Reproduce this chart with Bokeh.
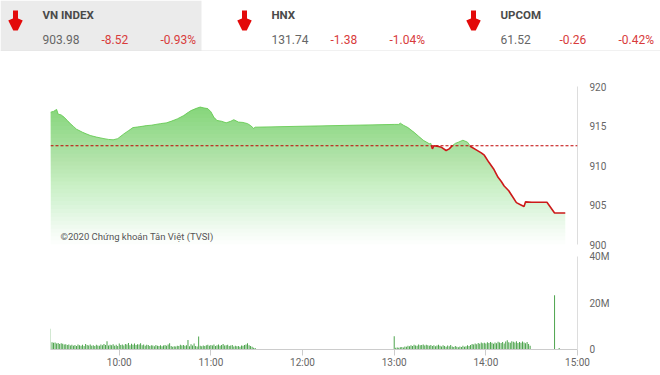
import numpy as np
from bokeh.plotting import figure
from bokeh.layouts import column, row
from bokeh.models import (Range1d, FixedTicker, LinearAxis, Span, Label, ColumnDataSource,
                          BoxAnnotation, Arrow, OpenHead)
from bokeh.core.properties import value
from bokeh.embed import file_html
from bokeh.resources import INLINE

FONT = "Roboto"

# ---------------- data ----------------
index_names = ["VN INDEX", "HNX", "UPCOM"]
index_values = [903.98, 131.74, 61.52]
index_changes = [-8.52, -1.38, -0.26]
index_pcts = [-0.93, -1.04, -0.42]

prev_close = 912.50

price_times = [
    "09:15", "09:17", "09:19", "09:20", "09:22", "09:24", "09:26", "09:28", "09:30", "09:32",
    "09:36", "09:41", "09:45", "09:50", "09:53", "09:56", "09:59", "10:03", "10:06", "10:09",
    "10:13", "10:18", "10:21", "10:24", "10:27", "10:31", "10:34", "10:38", "10:42", "10:45",
    "10:47", "10:50", "10:53", "10:55", "10:58", "11:00", "11:02", "11:04", "11:07", "11:10",
    "11:13", "11:15", "11:18", "11:21", "11:24", "11:26", "11:28", "11:29",
    "13:00", "13:03", "13:04", "13:06", "13:09", "13:13", "13:16", "13:19", "13:23", "13:24",
    "13:25", "13:26", "13:29", "13:31", "13:34", "13:36", "13:38", "13:40", "13:42", "13:45",
    "13:48", "13:50", "13:54", "13:57", "13:59", "14:02", "14:05", "14:08", "14:10", "14:12",
    "14:15", "14:17", "14:20", "14:23", "14:25", "14:26", "14:30", "14:40", "14:45", "14:52",
]
price_values = [
    916.75, 916.85, 917.10, 916.50, 916.40, 916.10, 915.70, 915.30, 914.95, 914.60,
    914.20, 913.80, 913.60, 913.40, 913.30, 913.25, 913.40, 914.00, 914.40, 914.80,
    914.90, 915.05, 915.10, 915.20, 915.30, 915.40, 915.60, 915.90, 916.30, 916.70,
    916.95, 917.20, 917.40, 917.30, 917.20, 916.80, 916.10, 915.70, 915.60, 915.40,
    915.60, 915.80, 915.50, 915.45, 915.30, 915.05, 914.70, 914.85,
    915.20, 915.20, 915.36, 915.10, 914.80, 914.20, 913.70, 913.20, 912.75, 912.80,
    912.10, 912.50, 912.40, 912.30, 911.90, 912.10, 912.50, 912.80, 912.95, 913.20,
    912.95, 912.40, 911.95, 911.60, 911.30, 910.40, 909.60, 908.50, 908.00, 907.40,
    906.80, 906.20, 905.30, 905.00, 904.80, 905.40, 905.35, 905.35, 903.98, 903.98,
]

morning_start = "09:15"
morning_volumes = [
    8.9, 3.1, 2.9, 3.0, 2.6, 2.8, 2.4, 2.7, 2.5, 2.2,
    2.3, 1.9, 2.1, 1.7, 2.0, 1.6, 1.9, 1.5, 2.2, 1.8,
    1.6, 2.0, 1.5, 2.4, 1.9, 1.7, 2.1, 1.6, 1.8, 1.5,
    2.0, 1.7, 1.6, 2.2, 1.8, 2.4, 1.9, 3.6, 1.7, 2.0,
    1.8, 2.3, 1.6, 2.0, 1.5, 2.6, 1.9, 2.2, 1.7, 2.4,
    2.1, 2.8, 1.8, 2.5, 2.0, 2.6, 1.9, 2.3, 2.1, 2.7,
    1.8, 2.2, 1.6, 2.0, 1.9, 1.5, 1.8, 1.7, 1.4, 1.9,
    1.6, 1.5, 1.8, 1.4, 1.7, 1.9, 1.6, 2.1, 2.7, 1.5,
    1.2, 1.4, 1.3, 1.6, 1.5, 2.0, 1.7, 1.9, 1.6, 1.8,
    4.1, 1.4, 2.3, 1.7, 2.6, 1.5, 1.3, 5.6, 1.6, 1.4,
    1.7, 1.5, 1.8, 2.0, 1.6, 1.9, 1.7, 2.1, 1.5, 1.8,
    2.2, 1.6, 1.9, 2.4, 1.7, 1.8, 2.0, 1.5, 1.7, 1.9,
    1.3, 1.6, 1.4, 1.5, 1.2, 1.7, 1.6, 1.9, 2.1, 2.7,
    1.8, 1.5, 1.2, 0.8, 0.6,
]
afternoon_start = "13:00"
afternoon_volumes = [
    5.7, 0.8, 0.9, 0.7, 1.0, 1.1, 0.9, 1.3, 1.2, 1.6,
    1.4, 1.8, 1.5, 2.0, 1.7, 1.6, 2.2, 1.8, 1.9, 2.1,
    1.7, 2.0, 1.8, 1.6, 1.9, 1.5, 1.8, 1.4, 1.7, 2.0,
    1.6, 1.3, 1.8, 1.5, 1.2, 1.7, 1.4, 1.9, 1.3, 1.1,
    1.5, 1.2, 1.0, 1.3, 1.1, 1.6, 1.2, 1.4, 1.8, 1.5,
    1.9, 2.4, 2.1, 2.6, 2.3, 2.8, 2.5, 3.0, 2.7, 2.9,
    2.6, 3.1, 2.8, 3.2, 2.9, 2.5, 3.0, 2.7, 3.3, 3.0,
    2.8, 3.2, 2.6, 3.4, 4.0, 3.1, 2.9, 3.6, 3.3, 3.0,
    3.5, 2.8, 3.2, 2.9, 3.4, 3.0, 2.7, 3.2, 2.4, 1.6,
]
close_times = ["14:45", "14:48"]
close_volumes = [23.3, 0.6]

price_ticks = [900, 905, 910, 915, 920]
volume_ticks = [0, 20, 40]
volume_tick_labels = ["0", "20M", "40M"]
time_tick_labels = ["10:00", "11:00", "12:00", "13:00", "14:00", "15:00"]
x_start, x_end = "09:15", "15:00"
caption = "©2020 Chứng khoán Tân Việt (TVSI)"


def to_min(s):
    h, m = s.split(":")
    return int(h) * 60 + int(m)


# ---------------- styles ----------------
RED = "#e30a0a"
TXT_RED = "#d83b3b"
GREEN = "#5fcf4f"
GRID = "#e3e3e3"
LABEL = "#666666"

W = 660
x_range = Range1d(to_min(x_start), to_min(x_end))

# ---------------- header ----------------
hdr = figure(width=W, height=51, x_range=Range1d(0, W), y_range=Range1d(51, 0),
             x_axis_type=None, y_axis_type=None, toolbar_location=None,
             output_backend="svg", min_border=0, min_border_left=0, min_border_right=0,
             min_border_top=0, min_border_bottom=0, outline_line_color=None, title=None)
hdr.xgrid.visible = False
hdr.ygrid.visible = False
hdr.add_layout(BoxAnnotation(left=0, right=201, top=0, bottom=51, fill_color="#ebebeb",
                             fill_alpha=1, line_color=None, level="underlay"))
hdr.add_layout(Span(location=50.5, dimension="width", line_color="#e2e2e2", line_width=1))

col_x = [42, 271, 500]
hsrc = ColumnDataSource(dict(
    x=col_x,
    name=index_names,
    val=[f"{v:.2f}" for v in index_values],
    chg=[f"{c:.2f}" for c in index_changes],
    pct=[f"{p:.2f}%" for p in index_pcts],
    x_chg=[x + 59 for x in col_x],
    x_pct=[x + 118 for x in col_x],
    y1=[14] * 3, y2=[39] * 3,
))
hdr.text(x="x", y="y1", text="name", source=hsrc, text_font=value(FONT), text_font_style="bold",
         text_font_size="11.5px", text_color="#4a4a4a", text_baseline="middle")
hdr.text(x="x", y="y2", text="val", source=hsrc, text_font=value(FONT),
         text_font_size="12px", text_color="#666666", text_baseline="middle")
hdr.text(x="x_chg", y="y2", text="chg", source=hsrc, text_font=value(FONT),
         text_font_size="12px", text_color=TXT_RED, text_baseline="middle")
hdr.text(x="x_pct", y="y2", text="pct", source=hsrc, text_font=value(FONT),
         text_font_size="12px", text_color=TXT_RED, text_baseline="middle")
for x in col_x:
    hdr.add_layout(Arrow(end=OpenHead(line_color=RED, line_width=5, size=10),
                         x_start=x - 27, y_start=10, x_end=x - 27, y_end=29,
                         line_color=RED, line_width=5))

# ---------------- price chart ----------------
main = figure(width=W, height=199, x_range=x_range, y_range=Range1d(900, 920),
              x_axis_type=None, y_axis_type=None, toolbar_location=None,
              output_backend="svg", title=None,
              min_border_left=50, min_border_right=83, min_border_top=35, min_border_bottom=6,
              outline_line_color=None)
main.xgrid.visible = False
yax = LinearAxis(ticker=FixedTicker(ticks=price_ticks), axis_line_color="#dddddd",
                 major_tick_in=0, major_tick_out=0, minor_tick_in=0, minor_tick_out=0,
                 major_label_standoff=12, major_label_text_font=FONT,
                 major_label_text_font_size="10px", major_label_text_color=LABEL)
main.add_layout(yax, "right")
main.ygrid.ticker = FixedTicker(ticks=price_ticks)
main.ygrid.grid_line_color = GRID

t = np.array([to_min(s) for s in price_times], dtype=float)
v = np.array(price_values, dtype=float)
xs, ys = [t[0]], [v[0]]
for i in range(1, len(t)):
    a, b = v[i - 1] - prev_close, v[i] - prev_close
    if a * b < 0:
        f = a / (a - b)
        xs.append(t[i - 1] + f * (t[i] - t[i - 1]))
        ys.append(prev_close)
    xs.append(t[i])
    ys.append(v[i])
xs = np.array(xs)
ys = np.array(ys)

# gradient fill made of stacked translucent areas
N = 36
top_level, A_top = 918.0, 0.72
levels = np.linspace(900, top_level, N + 1)[:-1]
A = A_top * np.arange(1, N + 1) / N
A_prev = np.concatenate([[0.0], A[:-1]])
alphas = 1 - (1 - A) / (1 - A_prev)
for lo, a in zip(levels, alphas):
    main.varea(x=xs, y1=np.minimum(ys, lo), y2=ys, fill_color=GREEN, fill_alpha=float(a))

up = np.where(ys >= prev_close, ys, np.nan)
dn = np.where(ys <= prev_close, ys, np.nan)
main.line(xs, up, line_color="#6bcc5a", line_width=1, line_alpha=0.9)
main.line(xs, dn, line_color="#cc1a1a", line_width=1.6)

main.add_layout(Span(location=prev_close, dimension="width", line_color="#c00000",
                     line_dash="3 2", line_width=1))
main.add_layout(Label(x=to_min(x_start) + 6.5, y=901.05, text=caption, text_font=FONT,
                      text_font_size="9.5px", text_color="#555555", text_baseline="middle"))

# ---------------- volume chart ----------------
vol = figure(width=W, height=125, x_range=x_range, y_range=Range1d(0, 40),
             x_axis_type=None, y_axis_type=None, toolbar_location=None,
             output_backend="svg", title=None,
             min_border_left=50, min_border_right=83, min_border_top=6, min_border_bottom=26,
             outline_line_color=None)
vol.xgrid.visible = False
vax = LinearAxis(ticker=FixedTicker(ticks=volume_ticks),
                 major_label_overrides={k: s for k, s in zip(volume_ticks, volume_tick_labels)},
                 axis_line_color="#dddddd",
                 major_tick_in=0, major_tick_out=0, minor_tick_in=0, minor_tick_out=0,
                 major_label_standoff=12, major_label_text_font=FONT,
                 major_label_text_font_size="10px", major_label_text_color=LABEL)
vol.add_layout(vax, "right")
time_ticks = [to_min(s) for s in time_tick_labels]
xax = LinearAxis(ticker=FixedTicker(ticks=time_ticks),
                 major_label_overrides={k: s for k, s in zip(time_ticks, time_tick_labels)},
                 axis_line_color="#cccccc", major_tick_line_color="#cccccc",
                 major_tick_in=0, major_tick_out=6, minor_tick_in=0, minor_tick_out=0,
                 major_label_standoff=1, major_label_text_font=FONT,
                 major_label_text_font_size="10px", major_label_text_color=LABEL)
vol.add_layout(xax, "below")
vol.ygrid.ticker = FixedTicker(ticks=[20, 40])
vol.ygrid.grid_line_color = GRID

m0 = to_min(morning_start)
a0 = to_min(afternoon_start)
vt = ([m0 + i for i in range(len(morning_volumes))]
      + [a0 + i for i in range(len(afternoon_volumes))]
      + [to_min(s) for s in close_times])
vv = list(morning_volumes) + list(afternoon_volumes) + list(close_volumes)
vol.vbar(x=vt, top=vv, width=0.6, fill_color="#3e9c3e", line_color=None)

layout = column(row(hdr), main, vol, spacing=0)
open("out.html", "w").write(file_html(layout, INLINE))
